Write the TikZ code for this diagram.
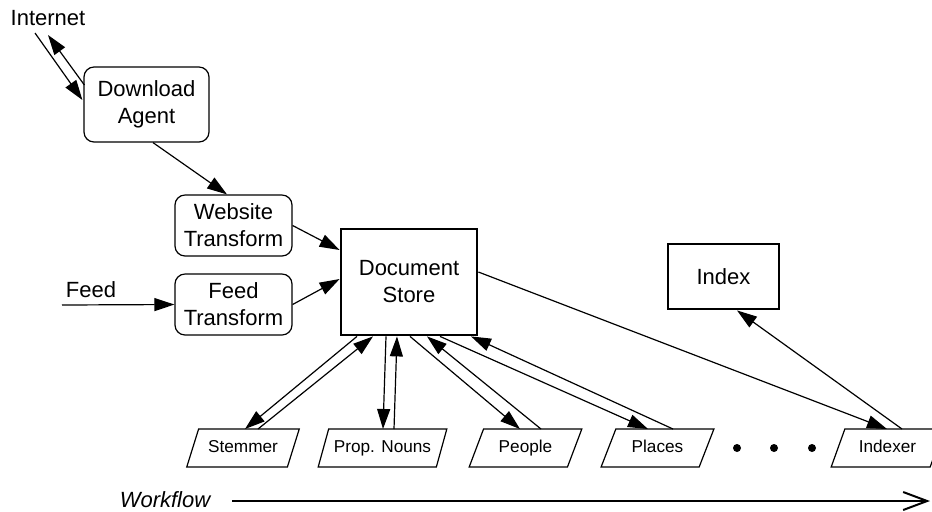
\documentclass[tikz,border=0pt]{standalone}
\usepackage{fontspec}
\setmainfont{Liberation Sans}
\usetikzlibrary{shapes.geometric,arrows.meta}
\begin{document}
\begin{tikzpicture}[
    x=0.5pt, y=-0.5pt,
    every node/.style={font=\fontsize{11}{13.5}\selectfont, align=center},
    procnode/.style={rectangle, rounded corners=5pt, draw=black, line width=0.6pt, minimum width=58.5pt, minimum height=30.5pt, inner sep=1pt},
    storenode/.style={rectangle, draw=black, line width=1.4pt, inner sep=1pt},
    filternode/.style={trapezium, trapezium left angle=64, trapezium right angle=116, trapezium stretches=true, draw=black, line width=0.6pt, minimum width=56.5pt, minimum height=19pt, inner sep=1pt, text height=6.3pt, text depth=1.8pt, font=\fontsize{8.6}{10}\selectfont},
    arr/.style={-{Triangle[length=10pt,width=6.5pt]}, line width=0.6pt}
]
\useasboundingbox (0,0) rectangle (932,511);

% sources
\node (internet) at (48,18) {Internet};
\coordinate (inetA) at (35,33);
\coordinate (inetB) at (48,35);
\node (feed) at (91,290) {Feed};
\coordinate (feedin) at (62,305);

\node[procnode, minimum width=62.5pt, minimum height=37.5pt] (download) at (146.5,104.5) {Download\\Agent};
\node[procnode] (website) at (233.5,225.5) {Website\\Transform};
\node[procnode] (feedtr) at (233.5,304.5) {Feed\\Transform};
\node[storenode, minimum width=68pt, minimum height=53pt] (docstore) at (409,282) {Document\\Store};
\node[storenode, minimum width=55.5pt, minimum height=32.5pt] (index) at (723.5,276.5) {Index};

% workflow steps
\node[filternode] (stemmer) at (243,448) {Stemmer};
\node[filternode, minimum width=64.5pt] (propnouns) at (382.5,448) {Prop. Nouns};
\node[filternode] (people) at (525.5,448) {People};
\node[filternode] (places) at (657.5,448) {Places};
\node[filternode] (indexer) at (887.5,448) {Indexer};

\foreach \x in {737,774,812}
    \fill (\x,448) circle (2pt);

\draw[arr] (inetA) -- ([shift={(-1,-4.5)}]download.west);
\draw[arr] ([shift={(1,-19.5)}]download.west) -- (inetB);
\draw[arr] ([shift={(6.5,0)}]download.south) -- ([shift={(-6.5,0)}]website.north);
\draw[arr] (website.east) -- ([shift={(0,-32)}]docstore.west);
\draw[arr] (feedtr.east) -- ([shift={(0,-3)}]docstore.west);
\draw[arr] (feedin) -- (feedtr.west);

\draw[arr] ([shift={(-52,0)}]docstore.south) -- ([shift={(2,-19)}]stemmer.center);
\draw[arr] ([shift={(15,-19)}]stemmer.center) -- ([shift={(-36,0)}]docstore.south);
\draw[arr] ([shift={(-23,0)}]docstore.south) -- ([shift={(0.5,-19)}]propnouns.center);
\draw[arr] ([shift={(11.5,-19)}]propnouns.center) -- ([shift={(-12,0)}]docstore.south);
\draw[arr] ([shift={(1,0)}]docstore.south) -- ([shift={(-5.5,-19)}]people.center);
\draw[arr] ([shift={(15.5,-19)}]people.center) -- ([shift={(18,0)}]docstore.south);
\draw[arr] ([shift={(31,0)}]docstore.south) -- ([shift={(-9.5,-19)}]places.center);
\draw[arr] ([shift={(15.5,-19)}]places.center) -- ([shift={(62,0)}]docstore.south);

\draw[arr] ([shift={(0,-10)}]docstore.east) -- ([shift={(-0.5,-19)}]indexer.center);
\draw[arr] ([shift={(14.5,-19)}]indexer.center) -- ([shift={(13.5,0)}]index.south);

% workflow direction
\node[font=\fontsize{11}{13.5}\selectfont\itshape] (workflow) at (165,500) {Workflow};
\coordinate (wfstart) at (232,501);
\coordinate (wfend) at (930,501);
\draw[-{Straight Barb[length=12pt,width=9pt]}, line width=1pt] (wfstart) -- (wfend);
\end{tikzpicture}
\end{document}
